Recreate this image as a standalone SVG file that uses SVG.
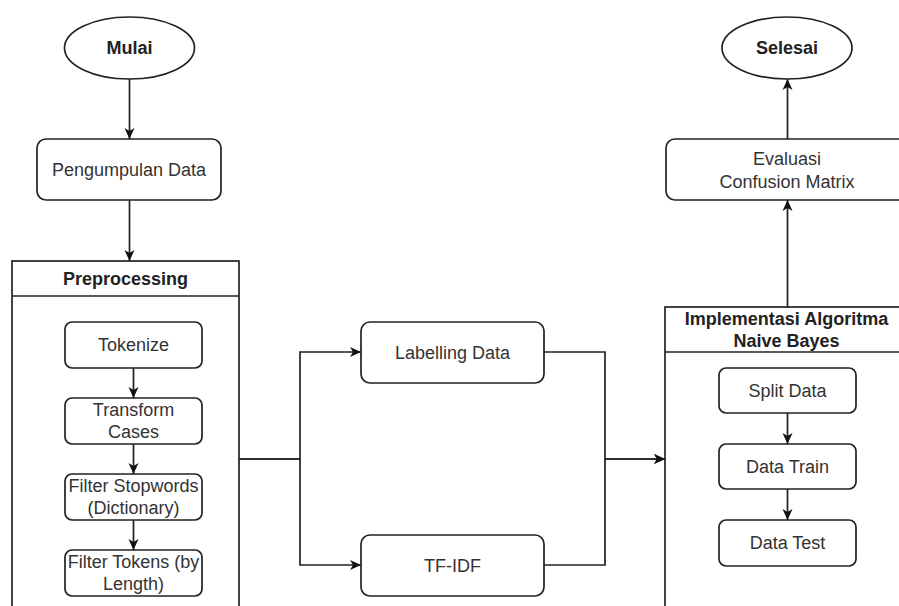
<svg xmlns="http://www.w3.org/2000/svg" width="899" height="606" viewBox="0 0 899 606">
<defs>
<marker id="arr" markerUnits="userSpaceOnUse" markerWidth="14" markerHeight="12" refX="11" refY="6" orient="auto">
<path d="M0,1 L11,6 L0,11 L3,6 Z" fill="#111"/>
</marker>
<style>
.shape{fill:#fff;stroke:#222;stroke-width:1.7}
.t{font-family:"Liberation Sans",Arial,Helvetica,sans-serif;font-size:18px;fill:#333;text-anchor:middle}
.b{font-weight:bold;fill:#222}
.c{fill:none;stroke:#222;stroke-width:1.7;marker-end:url(#arr)}
.l{fill:none;stroke:#222;stroke-width:1.7}
</style>
</defs>
<rect width="899" height="606" fill="#fff"/>
<g id="mulai"><ellipse class="shape" cx="129.5" cy="48" rx="65" ry="31"/><text class="t b" x="129.5" y="54">Mulai</text></g>
<g id="pengumpulan"><rect class="shape" x="37" y="139" width="184" height="61" rx="9"/><text class="t" x="129" y="176">Pengumpulan Data</text></g>
<g id="preprocessing"><rect class="shape" x="12" y="261" width="227" height="380"/><line class="l" x1="12" y1="296" x2="239" y2="296"/><text class="t b" x="125.5" y="285">Preprocessing</text></g>
<g id="tokenize"><rect class="shape" x="65" y="322" width="137" height="46" rx="7"/><text class="t" x="133.5" y="351">Tokenize</text></g>
<g id="transform"><rect class="shape" x="65" y="398" width="137" height="46" rx="7"/><text class="t" x="133.5" y="416">Transform</text><text class="t" x="133.5" y="438">Cases</text></g>
<g id="stopwords"><rect class="shape" x="65" y="474" width="137" height="46" rx="7"/><text class="t" x="133.5" y="492">Filter Stopwords</text><text class="t" x="133.5" y="514">(Dictionary)</text></g>
<g id="filtertokens"><rect class="shape" x="65" y="550" width="137" height="46" rx="7"/><text class="t" x="133.5" y="568">Filter Tokens (by</text><text class="t" x="133.5" y="590">Length)</text></g>
<g id="labelling"><rect class="shape" x="361" y="322" width="183" height="61" rx="9"/><text class="t" x="452.5" y="359">Labelling Data</text></g>
<g id="tfidf"><rect class="shape" x="361" y="535" width="183" height="61" rx="9"/><text class="t" x="452.5" y="572">TF-IDF</text></g>
<g id="implementasi"><rect class="shape" x="665" y="307" width="250" height="330"/><line class="l" x1="665" y1="352" x2="915" y2="352"/><text class="t b" x="786.5" y="325">Implementasi Algoritma</text><text class="t b" x="786.5" y="347">Naive Bayes</text></g>
<g id="split"><rect class="shape" x="719" y="368" width="137" height="45" rx="7"/><text class="t" x="787.5" y="397">Split Data</text></g>
<g id="train"><rect class="shape" x="719" y="444" width="137" height="45" rx="7"/><text class="t" x="787.5" y="473">Data Train</text></g>
<g id="test"><rect class="shape" x="719" y="520" width="137" height="46" rx="7"/><text class="t" x="787.5" y="549">Data Test</text></g>
<g id="evaluasi"><rect class="shape" x="666" y="139" width="250" height="61" rx="9"/><text class="t" x="787" y="165">Evaluasi</text><text class="t" x="787" y="188">Confusion Matrix</text></g>
<g id="selesai"><ellipse class="shape" cx="787" cy="48" rx="65" ry="31"/><text class="t b" x="787" y="54">Selesai</text></g>
<g id="connectors">
<path class="c" d="M129.5,79 V139"/>
<path class="c" d="M129.5,200 V261"/>
<path class="c" d="M133.5,368 V398"/>
<path class="c" d="M133.5,444 V474"/>
<path class="c" d="M133.5,520 V550"/>
<path class="c" d="M239,459 H300 V352 H361"/>
<path class="c" d="M239,459 H300 V565 H361"/>
<path class="c" d="M544,352 H605 V459 H665"/>
<path class="c" d="M544,565 H605 V459 H665"/>
<path class="c" d="M787.5,413 V444"/>
<path class="c" d="M787.5,489 V520"/>
<path class="c" d="M787.5,307 V200"/>
<path class="c" d="M787.5,139 V79"/>
</g>
</svg>
